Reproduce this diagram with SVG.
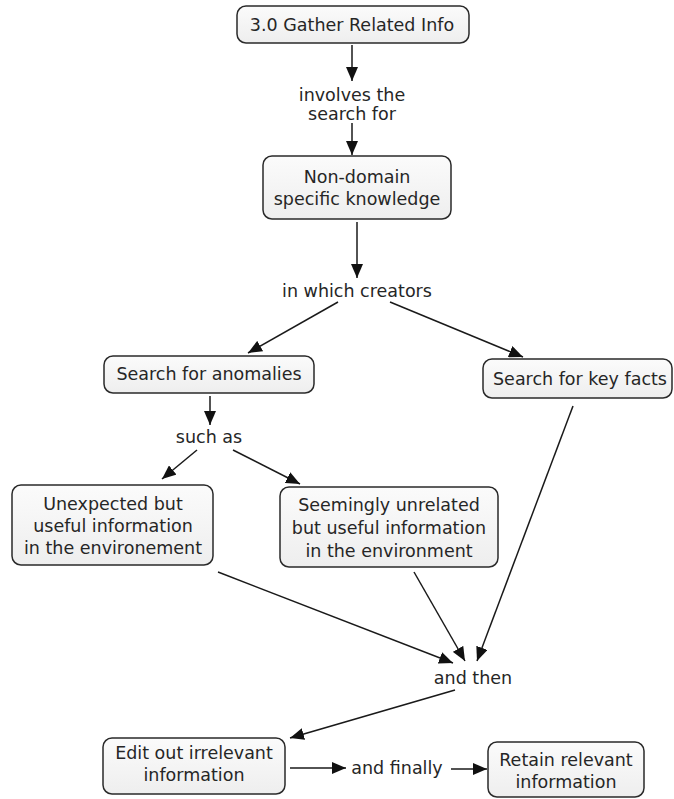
<svg xmlns="http://www.w3.org/2000/svg" width="674" height="799" viewBox="0 0 674 799">
  <defs>
    <marker id="arrow" viewBox="0 0 14 12" refX="14" refY="6" markerWidth="14" markerHeight="12" markerUnits="userSpaceOnUse" orient="auto">
      <path d="M0,0 L14,6 L0,12 Z" fill="#111"/>
    </marker>
    <linearGradient id="nodeFill" x1="0" y1="0" x2="0" y2="1">
      <stop offset="0" stop-color="#fbfbfb"/>
      <stop offset="1" stop-color="#eeeeee"/>
    </linearGradient>
  </defs>
  <style>
    .node rect { fill: url(#nodeFill); stroke: #2a2a2a; stroke-width: 1.5; }
    text { font-family: "DejaVu Sans", Verdana, sans-serif; font-size: 17.5px; fill: #262626; text-anchor: middle; dominant-baseline: central; }
    .conn line { stroke: #1a1a1a; stroke-width: 1.5; marker-end: url(#arrow); }
  </style>
  <rect width="674" height="799" fill="#ffffff"/>

  <!-- connectors -->
  <g id="connectors" class="conn">
    <line x1="352" y1="45" x2="352" y2="81"/>
    <line x1="352" y1="123" x2="352" y2="155"/>
    <line x1="357" y1="222" x2="357" y2="278"/>
    <line x1="338" y1="302" x2="248" y2="353"/>
    <line x1="390" y1="302" x2="523" y2="357"/>
    <line x1="210" y1="396" x2="210" y2="425"/>
    <line x1="197" y1="450" x2="162" y2="479"/>
    <line x1="233" y1="450" x2="300" y2="484"/>
    <line x1="218" y1="572" x2="453" y2="663"/>
    <line x1="414" y1="572" x2="465" y2="661"/>
    <line x1="573" y1="406" x2="477" y2="661"/>
    <line x1="455" y1="690" x2="290" y2="738"/>
    <line x1="290" y1="768" x2="346" y2="768"/>
    <line x1="451" y1="769" x2="487" y2="769"/>
  </g>

  <!-- linking phrases -->
  <g id="labels">
    <text x="352" y="95">involves the</text>
    <text x="352" y="114">search for</text>
    <text x="357" y="291">in which creators</text>
    <text x="209" y="437">such as</text>
    <text x="473" y="678">and then</text>
    <text x="397" y="768">and finally</text>
  </g>

  <!-- concepts -->
  <g id="n-gather" class="node">
    <rect x="237" y="6" width="232" height="37" rx="9"/>
    <text x="352" y="25">3.0 Gather Related Info</text>
  </g>
  <g id="n-nondomain" class="node">
    <rect x="263" y="156" width="188" height="63" rx="9"/>
    <text x="357" y="177">Non-domain</text>
    <text x="357" y="199">specific knowledge</text>
  </g>
  <g id="n-anomalies" class="node">
    <rect x="104" y="356" width="210" height="37" rx="9"/>
    <text x="209" y="374">Search for anomalies</text>
  </g>
  <g id="n-keyfacts" class="node">
    <rect x="483" y="359" width="189" height="39" rx="9"/>
    <text x="580" y="379">Search for key facts</text>
  </g>
  <g id="n-unexpected" class="node">
    <rect x="12" y="485" width="201" height="80" rx="9"/>
    <text x="113" y="504">Unexpected but</text>
    <text x="113" y="526">useful information</text>
    <text x="113" y="548">in the environement</text>
  </g>
  <g id="n-unrelated" class="node">
    <rect x="280" y="487" width="218" height="80" rx="9"/>
    <text x="389" y="505">Seemingly unrelated</text>
    <text x="389" y="528">but useful information</text>
    <text x="389" y="551">in the environment</text>
  </g>
  <g id="n-edit" class="node">
    <rect x="103" y="738" width="182" height="56" rx="9"/>
    <text x="194" y="753">Edit out irrelevant</text>
    <text x="194" y="775">information</text>
  </g>
  <g id="n-retain" class="node">
    <rect x="488" y="742" width="156" height="55" rx="9"/>
    <text x="566" y="760">Retain relevant</text>
    <text x="566" y="782">information</text>
  </g>
</svg>
